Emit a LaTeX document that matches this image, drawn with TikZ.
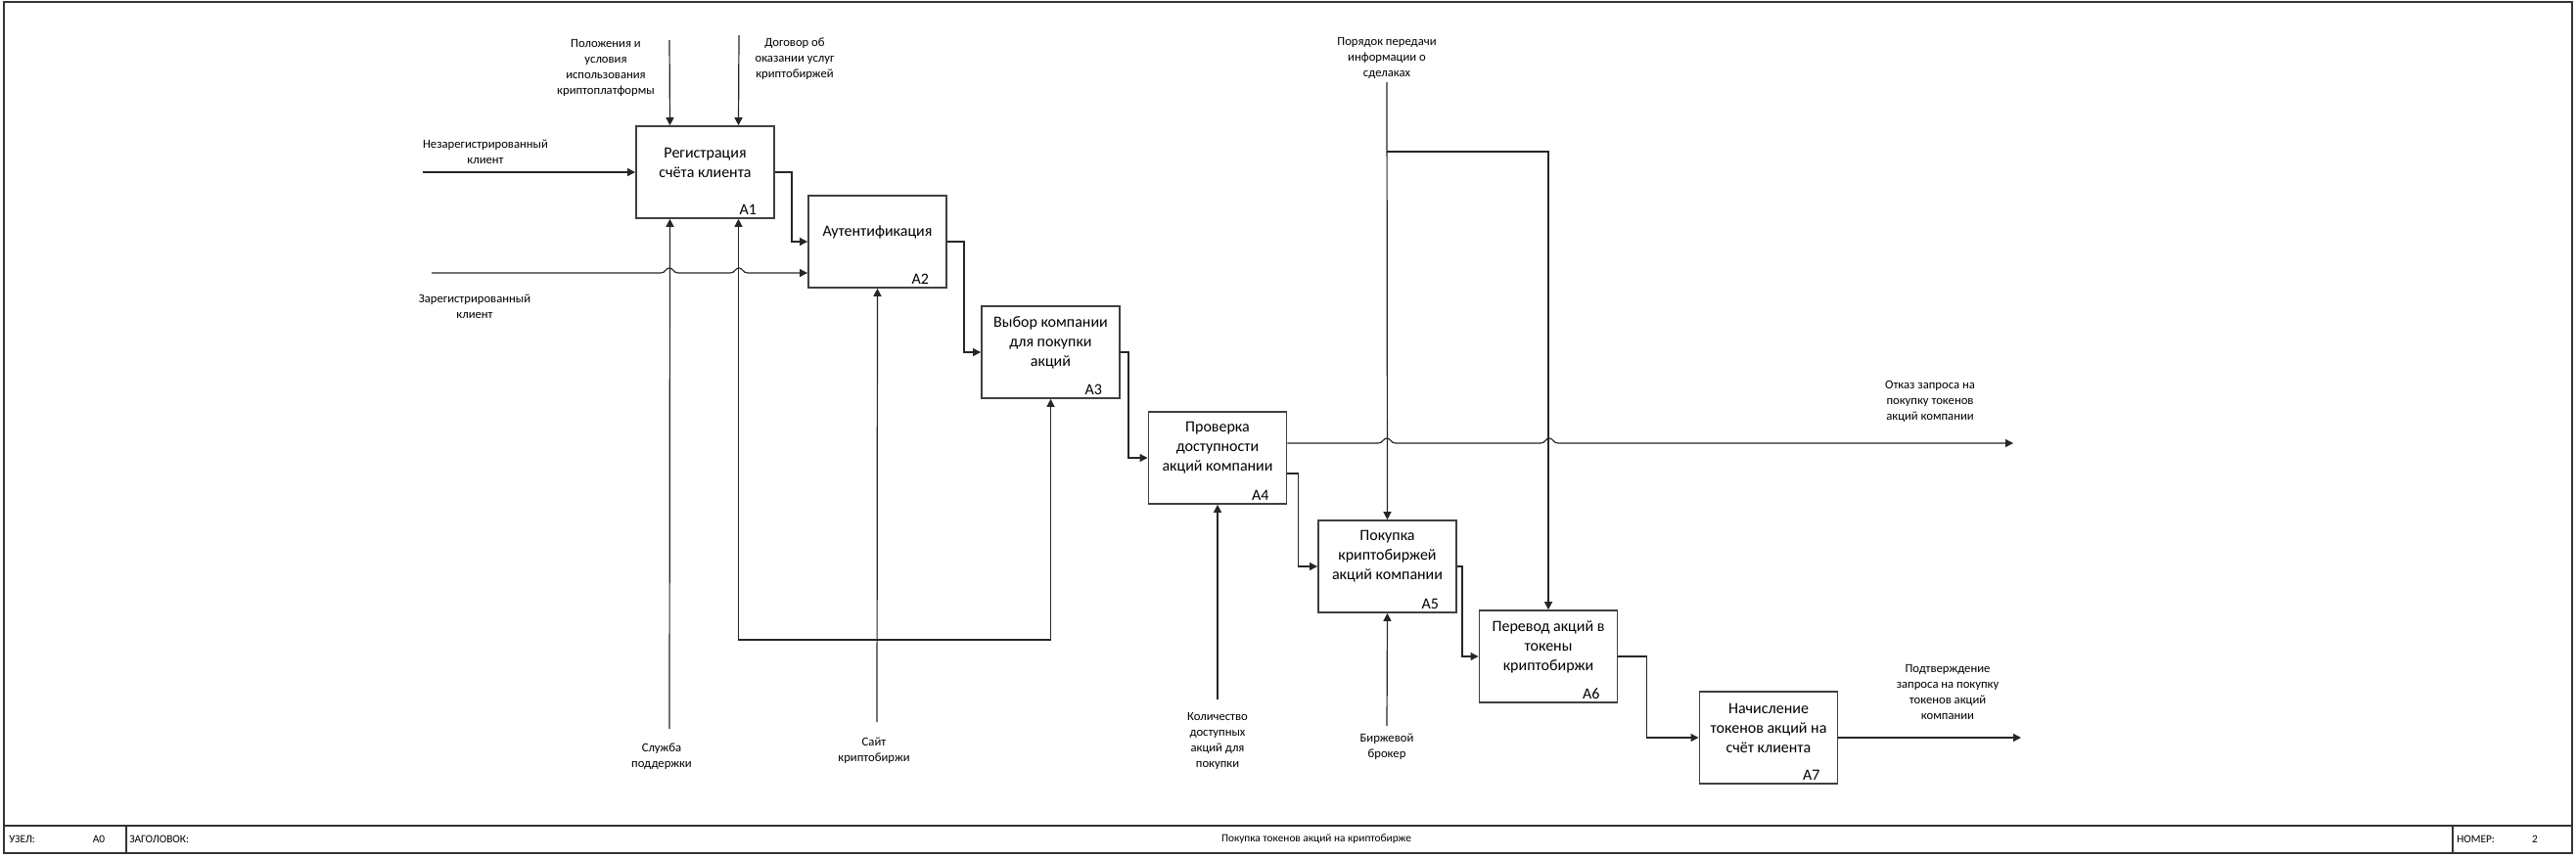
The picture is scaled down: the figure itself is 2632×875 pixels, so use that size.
\documentclass[tikz,border=0pt]{standalone}
\usepackage{fontspec}
\setmainfont{Carlito}
\usetikzlibrary{arrows.meta}
\begin{document}
\begin{tikzpicture}[x=0.75pt,y=-0.75pt,
  box/.style={draw=black!75,line width=1.2pt,minimum width=106pt,minimum height=70.5pt,inner sep=0pt},
  btext/.style={align=center,font=\fontsize{12}{15}\selectfont,inner sep=0pt},
  bnum/.style={anchor=base east,font=\fontsize{12}{15}\selectfont,inner sep=0pt},
  lbl/.style={align=center,font=\fontsize{9.5}{12}\selectfont,inner sep=0pt},
  ln/.style={draw=black!85,line width=0.9pt},
  arr/.style={ln,-{Triangle[length=6pt,width=6pt]}},
  frm/.style={draw=black!80,line width=1pt},
  tb/.style={font=\fontsize{8.5}{10}\selectfont,inner sep=0pt}]
\useasboundingbox (0,0) rectangle (2632,875);

% frame and title bar
\draw[frm] (4,2) rectangle (2628,872);
\draw[frm] (4,844) -- (2628,844);
\draw[frm] (129,844) -- (129,872);
\draw[frm] (2506,844) -- (2506,872);
\node[tb,anchor=west] (tuzel) at (9,858) {УЗЕЛ:};
\node[tb] (tnode) at (101,858) {A0};
\node[tb,anchor=west] (tzag) at (132,858) {ЗАГОЛОВОК:};
\node[tb] (ttitle) at (1345,858) {Покупка токенов акций на криптобирже};
\node[tb,anchor=west] (tnom) at (2510,858) {НОМЕР:};
\node[tb] (tnum) at (2590,858) {2};

% boxes
\node[box] (A1) at (720.5,176) {};
\node[box] (A2) at (896.5,247) {};
\node[box] (A3) at (1073.5,360) {};
\node[box] (A4) at (1244,468) {};
\node[box] (A5) at (1417.5,579) {};
\node[box] (A6) at (1582,671) {};
\node[box] (A7) at (1807,754) {};

\node[btext] (t1) at ([yshift=7.5pt]A1.center) {Регистрация\\счёта клиента};
\node[btext] (t2) at ([yshift=7.5pt]A2.center) {Аутентификация};
\node[btext] (t3) at ([yshift=7.5pt]A3.center) {Выбор компании\\для покупки\\акций};
\node[btext] (t4) at ([yshift=7.5pt]A4.center) {Проверка\\доступности\\акций компании};
\node[btext] (t5) at ([yshift=7.5pt]A5.center) {Покупка\\криптобиржей\\акций компании};
\node[btext] (t6) at ([yshift=7.5pt]A6.center) {Перевод акций в\\токены\\криптобиржи};
\node[btext] (t7) at ([yshift=7.5pt]A7.center) {Начисление\\токенов акций на\\счёт клиента};

\foreach \b in {1,...,7}{
  \node[bnum] (n\b) at ([xshift=-14pt,yshift=3pt]A\b.south east) {A\b};
}

% labels
\node[lbl] (Lunreg) at (496,155) {Незарегистрированный\\клиент};
\node[lbl] (Lreg) at (485,313) {Зарегистрированный\\клиент};
\node[lbl] (Lpol) at (619,69) {Положения и\\условия\\использования\\криптоплатформы};
\node[lbl] (Ldog) at (812,60) {Договор об\\оказании услуг\\криптобиржей};
\node[lbl] (Lsl) at (676,773) {Служба\\поддержки};
\node[lbl] (Lsait) at (893,767) {Сайт\\криптобиржи};
\node[lbl] (Lkol) at (1244,757) {Количество\\доступных\\акций для\\покупки};
\node[lbl] (Lbr) at (1417,763) {Биржевой\\брокер};
\node[lbl] (Lpor) at (1417,59) {Порядок передачи\\информации о\\сделаках};
\node[lbl] (Lotk) at (1972,410) {Отказ запроса на\\покупку токенов\\акций компании};
\node[lbl] (Lpod) at (1990,707) {Подтверждение\\запроса на покупку\\токенов акций\\компании};

% free ends
\coordinate (sUnreg) at (432,176);
\coordinate (sReg) at (441,279);
\coordinate (sPol) at (684,41);
\coordinate (sDog) at (755,36);
\coordinate (sSl) at (684,745);
\coordinate (sSait) at (896,738);
\coordinate (jSait) at (896,654);
\coordinate (sKol) at (1244,715);
\coordinate (sBr) at (1417,742);
\coordinate (sPor) at (1417,84);
\coordinate (jPor) at (1417,155);
\coordinate (eOtk) at (2057,453);
\coordinate (ePod) at (2065,754);

% inputs
\draw[arr] (sUnreg) -- (A1.west);
\draw[arr] (sReg) -- (675,279) .. controls (680,279) and (680,274) .. (684,274) .. controls (688,274) and (688,279) .. (693,279)
  -- (746,279) .. controls (751,279) and (751,274) .. (755,274) .. controls (759,274) and (759,279) .. (764,279)
  -- ([yshift=-24pt]A2.west);

% controls
\draw[arr] (sPol) -- ([xshift=-27pt]A1.north);
\draw[arr] (sDog) -- ([xshift=25.5pt]A1.north);
\draw[arr] (sPor) -- (A5.north);
\draw[arr] (jPor) -| (A6.north);

% mechanisms
\draw[arr] (sSl) -- ([xshift=-27pt]A1.south);
\draw[arr] (sSait) -- (A2.south);
\draw[arr] (jSait) -| ([xshift=25.5pt]A1.south);
\draw[arr] (jSait) -| (A3.south);
\draw[arr] (sKol) -- (A4.south);
\draw[arr] (sBr) -- (A5.south);

% flows between boxes
\draw[arr] (A1.east) -- ++(17,0) |- (A2.west);
\draw[arr] (A2.east) -- ++(17,0) |- (A3.west);
\draw[arr] (A3.east) -- ++(8,0) |- (A4.west);
\draw[arr] ([yshift=-12pt]A4.east) -- ++(11,0) |- (A5.west);
\draw[arr] (A5.east) -- ++(5,0) |- (A6.west);
\draw[arr] (A6.east) -- ++(29,0) |- (A7.west);

% outputs
\draw[arr] ([yshift=11.25pt]A4.east) -- (1408,453) .. controls (1413,453) and (1413,448) .. (1417,448) .. controls (1421,448) and (1421,453) .. (1426,453)
  -- (1574,453) .. controls (1579,453) and (1579,448) .. (1583,448) .. controls (1587,448) and (1587,453) .. (1592,453)
  -- (eOtk);
\draw[arr] (A7.east) -- (ePod);
\end{tikzpicture}
\end{document}
